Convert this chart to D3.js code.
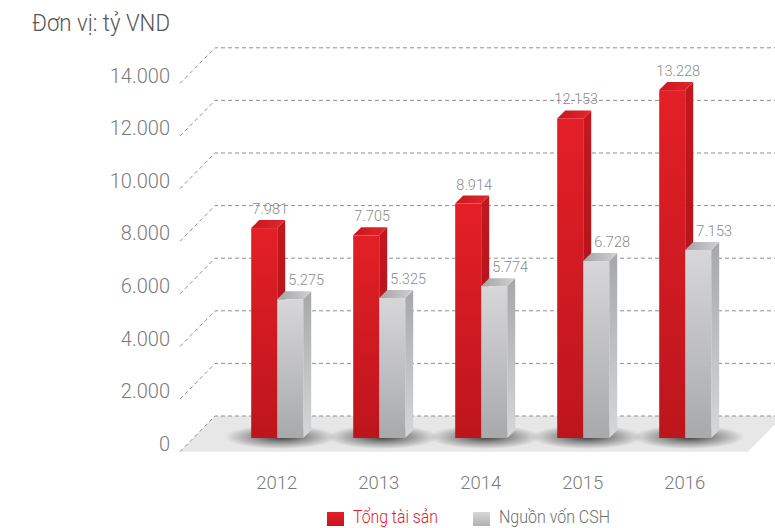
<!DOCTYPE html>
<html>
<head>
<meta charset="utf-8">
<script src="https://cdn.jsdelivr.net/npm/d3@7"></script>
<style>
  html, body { margin: 0; padding: 0; background: #fff; }
  svg { display: block; }
  text { font-family: "Roboto", "Noto Sans", sans-serif; font-weight: 300; }
</style>
</head>
<body>
<svg id="chart" width="775" height="528"></svg>
<script>
// Tổng tài sản và Nguồn vốn chủ sở hữu, 2012–2016 (tỷ VND)
const years = ["2012", "2013", "2014", "2015", "2016"];
const tongTaiSan = [7981, 7705, 8914, 12153, 13228];
const nguonVonCSH = [5275, 5325, 5774, 6728, 7153];
const tickValues = [0, 2000, 4000, 6000, 8000, 10000, 12000, 14000];
const seriesNames = ["Tổng tài sản", "Nguồn vốn CSH"];

const vn = d3.formatLocale({ decimal: ",", thousands: ".", grouping: [3], currency: ["", ""] });
const fmt = vn.format(",d");

const svg = d3.select("#chart");
const defs = svg.append("defs");

// geometry of the 3D box
const baseY = 438;            // bar base line
const frontOff = 13.7;        // floor front edge below bar base
const backOff = -22;          // back wall offset from bar base
const floorLeft = 180, depthX = 35;
const barDepth = 8;

const y = d3.scaleLinear().domain([0, 14000]).range([baseY, baseY - 368.2]);
const x = d3.scaleBand().domain(years).range([225.7, 735.7]);
const inner = d3.scaleBand().domain(seriesNames).range([-25.5, 26.5]);

// gradients
function linGrad(id, x2, y2, stops) {
  const g = defs.append("linearGradient").attr("id", id)
    .attr("x1", 0).attr("y1", 0).attr("x2", x2).attr("y2", y2);
  stops.forEach(([o, c]) => g.append("stop").attr("offset", o).attr("stop-color", c));
}
linGrad("redFront", 0, 1, [[0, "#e31f27"], [1, "#bd151d"]]);
linGrad("redSide", 0, 1, [[0, "#c3171e"], [1, "#a51218"]]);
linGrad("redTop", 1, 0, [[0, "#c8161d"], [1, "#e3262c"]]);
linGrad("grayFront", 0, 1, [[0, "#d7d7d9"], [1, "#a8a9ab"]]);
linGrad("graySide", 0, 1, [[0, "#a6a7a9"], [1, "#d6d7d9"]]);
linGrad("grayTop", 1, 0, [[0, "#a4a4a6"], [1, "#d0d0d2"]]);
linGrad("legendRed", 0, 1, [[0, "#e31f27"], [1, "#c4161e"]]);
linGrad("legendGray", 0, 1, [[0, "#d8d8da"], [1, "#b0b1b3"]]);

const shadow = defs.append("radialGradient").attr("id", "shadow");
shadow.append("stop").attr("offset", 0).attr("stop-color", "#000").attr("stop-opacity", 0.75);
shadow.append("stop").attr("offset", 0.45).attr("stop-color", "#000").attr("stop-opacity", 0.38);
shadow.append("stop").attr("offset", 1).attr("stop-color", "#000").attr("stop-opacity", 0);

// floor
const fy = baseY + frontOff, by = baseY + backOff;
svg.append("path")
  .attr("d", `M${floorLeft},${fy}L748,${fy}L${748 + depthX},${by}L${floorLeft + depthX},${by}Z`)
  .attr("fill", "#e7e7e8");

// grid lines: diagonal on the side wall, horizontal on the back wall
svg.append("g").selectAll("path").data(tickValues).join("path")
  .attr("d", v => `M${floorLeft},${y(v) + frontOff}L${floorLeft + depthX},${y(v) + backOff}L775,${y(v) + backOff}`)
  .attr("fill", "none")
  .attr("stroke", "#8f8f8f")
  .attr("stroke-width", 1)
  .attr("stroke-dasharray", "4,3");

// y tick labels
svg.append("g").selectAll("text").data(tickValues).join("text")
  .attr("x", 170).attr("y", v => y(v) + frontOff - 1)
  .attr("text-anchor", "end")
  .attr("font-size", 20)
  .attr("fill", "#7a7a7a")
  .text(v => fmt(v));

// shadows under each pair of bars
svg.append("g").selectAll("ellipse").data(years).join("ellipse")
  .attr("cx", d => x(d) + x.bandwidth() / 2 + 4)
  .attr("cy", baseY - 1)
  .attr("rx", 56).attr("ry", 12)
  .attr("fill", "url(#shadow)");

// 3D bars
const seriesData = [tongTaiSan, nguonVonCSH];
const fills = [["redFront", "redSide", "redTop"], ["grayFront", "graySide", "grayTop"]];
seriesNames.forEach((name, si) => {
  const g = svg.append("g");
  const items = years.map((yr, i) => ({ yr, v: seriesData[si][i] }));
  const bars = g.selectAll("g").data(items).join("g");
  const left = d => x(d.yr) + x.bandwidth() / 2 + inner(name);
  const w = inner.bandwidth();
  bars.append("path") // side face
    .attr("d", d => {
      const l = left(d) + w, t = y(d.v);
      return `M${l},${t}L${l + barDepth},${t - barDepth}L${l + barDepth},${baseY - barDepth}L${l},${baseY}Z`;
    })
    .attr("fill", `url(#${fills[si][1]})`);
  bars.append("path") // top face
    .attr("d", d => {
      const l = left(d), t = y(d.v);
      return `M${l},${t}L${l + barDepth},${t - barDepth}L${l + w + barDepth},${t - barDepth}L${l + w},${t}Z`;
    })
    .attr("fill", `url(#${fills[si][2]})`);
  bars.append("rect") // front face
    .attr("x", left).attr("y", d => y(d.v))
    .attr("width", w).attr("height", d => baseY - y(d.v))
    .attr("fill", `url(#${fills[si][0]})`);
});

// value labels
const labelOffset = [6, 16];
seriesNames.forEach((name, si) => {
  svg.append("g").selectAll("text").data(years.map((yr, i) => ({ yr, v: seriesData[si][i] }))).join("text")
    .attr("x", d => x(d.yr) + x.bandwidth() / 2 + inner(name) + inner.bandwidth() / 2 + labelOffset[si])
    .attr("y", d => y(d.v) - 14)
    .attr("text-anchor", "middle")
    .attr("font-size", 14.5)
    .attr("fill", "#8a8a8a")
    .text(d => fmt(d.v));
});

// year labels
svg.append("g").selectAll("text").data(years).join("text")
  .attr("x", d => x(d) + x.bandwidth() / 2)
  .attr("y", 489)
  .attr("text-anchor", "middle")
  .attr("font-size", 18.5)
  .attr("fill", "#7a7a7a")
  .text(d => d);

// unit title
svg.append("text")
  .attr("x", 32).attr("y", 31)
  .attr("font-size", 23)
  .attr("font-weight", 400)
  .attr("textLength", 138).attr("lengthAdjust", "spacingAndGlyphs")
  .attr("fill", "#555")
  .text("Đơn vị: tỷ VND");

// legend
const legend = svg.append("g");
const legendItems = [
  { name: seriesNames[0], x: 327, width: 85, fill: "url(#legendRed)", color: "#e0202a" },
  { name: seriesNames[1], x: 473, width: 111, fill: "url(#legendGray)", color: "#6e6e6e" }
];
legendItems.forEach(it => {
  legend.append("rect").attr("x", it.x).attr("y", 512).attr("width", 17).attr("height", 14).attr("fill", it.fill);
  legend.append("text").attr("x", it.x + 26).attr("y", 523)
    .attr("font-size", 19)
    .attr("textLength", it.width).attr("lengthAdjust", "spacingAndGlyphs")
    .attr("fill", it.color).text(it.name);
});
</script>
</body>
</html>
